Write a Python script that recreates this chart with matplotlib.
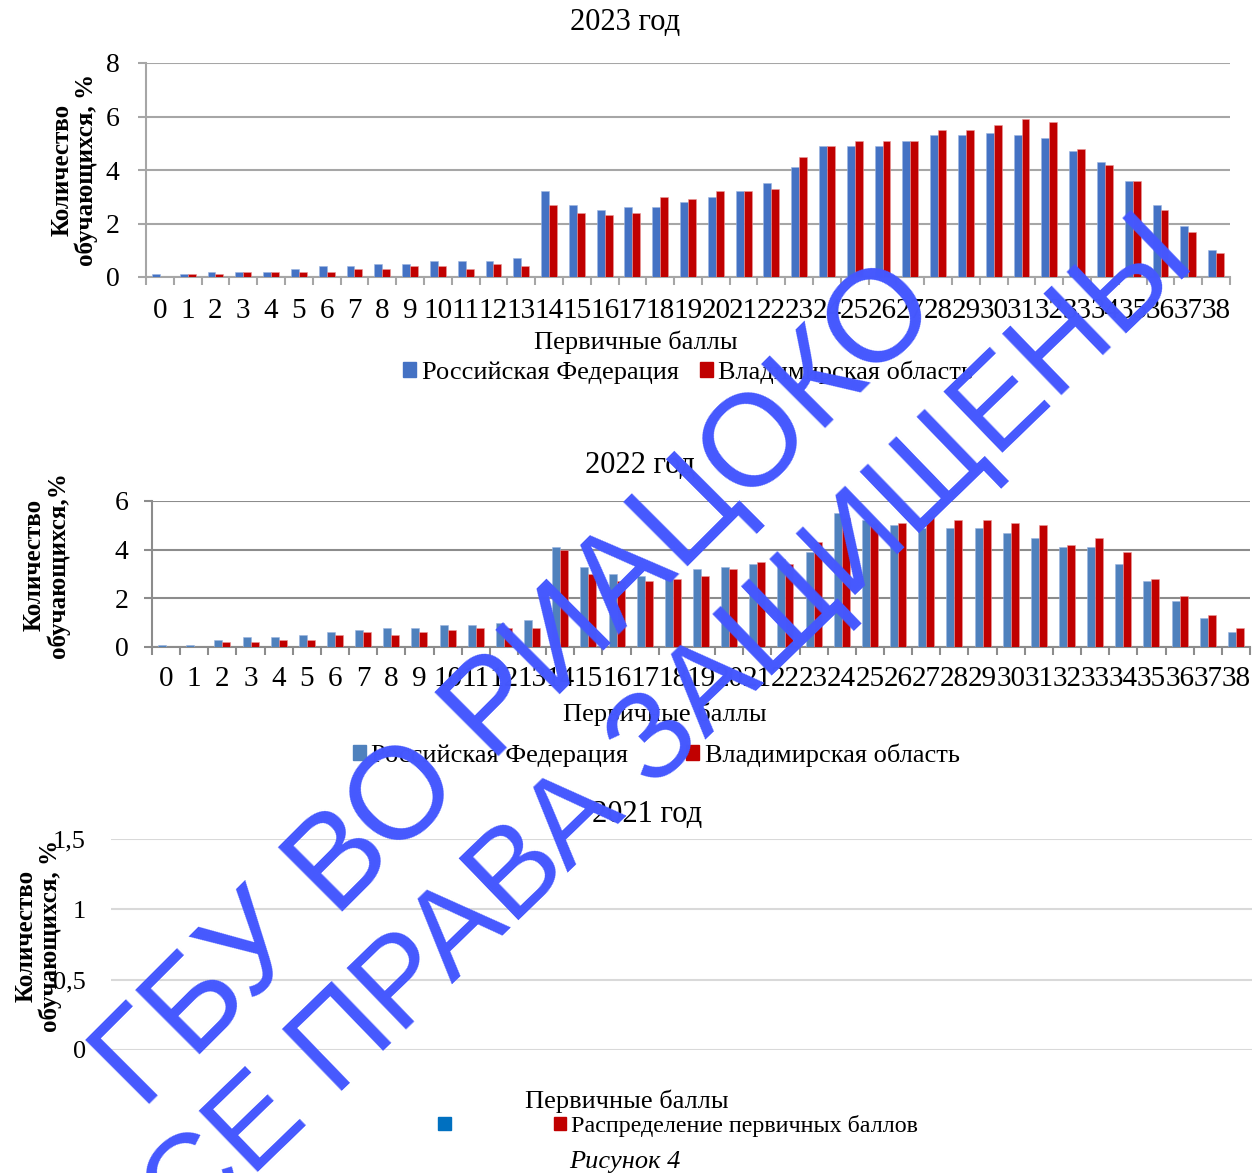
import numpy as np
import matplotlib
matplotlib.use('Agg')
import matplotlib.pyplot as plt
from matplotlib.patches import Patch
from matplotlib.ticker import FuncFormatter

# данные: первичные баллы и доля обучающихся, %
scores = list(range(39))

rf_2023 = [0.1, 0.1, 0.2, 0.2, 0.2, 0.3, 0.4, 0.4, 0.5, 0.5, 0.6, 0.6, 0.6, 0.7,
           3.2, 2.7, 2.5, 2.6, 2.6, 2.8, 3.0, 3.2, 3.5, 4.1,
           4.9, 4.9, 4.9, 5.1, 5.3, 5.3, 5.4, 5.3, 5.2, 4.7,
           4.3, 3.6, 2.7, 1.9, 1.0]
vo_2023 = [0.0, 0.1, 0.1, 0.2, 0.2, 0.2, 0.2, 0.3, 0.3, 0.4, 0.4, 0.3, 0.5, 0.4,
           2.7, 2.4, 2.3, 2.4, 3.0, 2.9, 3.2, 3.2, 3.3, 4.5,
           4.9, 5.1, 5.1, 5.1, 5.5, 5.5, 5.7, 5.9, 5.8, 4.8,
           4.2, 3.6, 2.5, 1.7, 0.9]

rf_2022 = [0.1, 0.1, 0.3, 0.4, 0.4, 0.5, 0.6, 0.7, 0.8, 0.8, 0.9, 0.9, 1.0, 1.1,
           4.1, 3.3, 3.0, 2.9, 3.0, 3.2, 3.3, 3.4, 3.6, 3.9,
           5.5, 5.2, 5.0, 4.9, 4.9, 4.9, 4.7, 4.5, 4.1, 4.1,
           3.4, 2.7, 1.9, 1.2, 0.6]
vo_2022 = [0.0, 0.0, 0.2, 0.2, 0.3, 0.3, 0.5, 0.6, 0.5, 0.6, 0.7, 0.8, 0.8, 0.8,
           4.0, 3.0, 2.7, 2.7, 2.8, 2.9, 3.2, 3.5, 3.4, 4.3,
           5.3, 5.1, 5.1, 5.4, 5.2, 5.2, 5.1, 5.0, 4.2, 4.5,
           3.9, 2.8, 2.1, 1.3, 0.8]

# 2021 год: данных на диаграмме нет
scores_2021 = []
dist_2021 = []

series_names = ['Российская Федерация', 'Владимирская область']
label_2021 = 'Распределение первичных баллов'

W, H = 1252, 1173
plt.rcParams['font.family'] = ['Liberation Serif', 'DejaVu Serif']


def fx(x):
    return x / W


def fy(y):
    return 1 - y / H


def box(left, top, right, bottom):
    return [fx(left), fy(bottom), (right - left) / W, (bottom - top) / H]


def bar_chart(ax, rf, vo, c_rf, ymax, ystep, grid_c, tick_pad, ytick_pad):
    x = np.arange(len(scores))
    w = 0.285
    ax.bar(x - w / 2, rf, w, color=c_rf, edgecolor='#9DB5E0', linewidth=0.4, zorder=3)
    ax.bar(x + w / 2, vo, w, color='#C00000', edgecolor='#E89A9A', linewidth=0.4, zorder=3)
    ax.set_xlim(-0.5, len(scores) - 0.5)
    ax.set_ylim(0, ymax)
    ax.set_yticks(np.arange(0, ymax + 0.01, ystep))
    ax.yaxis.grid(True, color=grid_c, linewidth=1.5, zorder=0)
    ax.set_xticks(np.arange(len(scores) + 1) - 0.5)
    ax.set_xticklabels([])
    ax.set_xticks(x, minor=True)
    ax.set_xticklabels([str(s) for s in scores], minor=True, fontsize=21)
    ax.tick_params(axis='x', which='major', length=6, color=grid_c, width=1.5, direction='out')
    ax.tick_params(axis='x', which='minor', length=0, pad=tick_pad)
    ax.tick_params(axis='y', length=6, color=grid_c, width=1.5, labelsize=20, pad=ytick_pad)
    for s in ['top', 'right']:
        ax.spines[s].set_visible(False)
    for s in ['left', 'bottom']:
        ax.spines[s].set_color(grid_c)
        ax.spines[s].set_linewidth(1.5)


fig = plt.figure(figsize=(W / 100, H / 100), dpi=100)

# 2023
ax1 = fig.add_axes(box(146, 63, 1230, 277))
bar_chart(ax1, rf_2023, vo_2023, '#4472C4', 8, 2, '#A6A6A6', 15, 13)
fig.text(fx(625), fy(22), '2023 год', ha='center', va='center', fontsize=22)
fig.text(fx(74), fy(170), 'Количество\nобучающихся, %', rotation=90, ha='center', va='center',
         multialignment='center', fontsize=18, fontweight='bold', linespacing=1.05)
fig.text(fx(636), fy(342), 'Первичные баллы', ha='center', va='center', fontsize=19)
fig.legend(handles=[Patch(color='#4472C4'), Patch(color='#C00000')], labels=series_names,
           loc='center', bbox_to_anchor=(fx(688), fy(372)), ncol=2, frameon=False, fontsize=19,
           handlelength=0.5, handleheight=0.5, handletextpad=0.2, columnspacing=0.8, borderpad=0)

# 2022
ax2 = fig.add_axes(box(152, 501, 1250, 647))
bar_chart(ax2, rf_2022, vo_2022, '#4F81BD', 6, 2, '#8C8C8C', 14, 11)
fig.text(fx(640), fy(465), '2022 год', ha='center', va='center', fontsize=22)
fig.text(fx(46), fy(565), 'Количество\nобучающихся,%', rotation=90, ha='center', va='center',
         multialignment='center', fontsize=18, fontweight='bold', linespacing=1.05)
fig.text(fx(665), fy(714), 'Первичные баллы', ha='center', va='center', fontsize=19)
fig.legend(handles=[Patch(color='#4F81BD'), Patch(color='#C00000')], labels=series_names,
           loc='center', bbox_to_anchor=(fx(656), fy(755)), ncol=2, frameon=False, fontsize=19,
           handlelength=0.5, handleheight=0.5, handletextpad=0.2, columnspacing=2.2, borderpad=0)

# 2021
ax3 = fig.add_axes(box(111, 839, 1252, 1050))
ax3.bar(scores_2021, dist_2021, color='#C00000')
ax3.set_xlim(-0.5, 38.5)
ax3.set_ylim(0, 1.5)
ax3.set_yticks([0, 0.5, 1, 1.5])
ax3.yaxis.set_major_formatter(FuncFormatter(lambda v, p: f'{v:g}'.replace('.', ',')))
ax3.yaxis.grid(True, color='#D9D9D9', linewidth=1.5)
ax3.set_xticks([])
ax3.tick_params(axis='y', length=0, labelsize=19, pad=18)
for s in ax3.spines.values():
    s.set_visible(False)
fig.text(fx(647), fy(815), '2021 год', ha='center', va='center', fontsize=22)
fig.text(fx(38), fy(936), 'Количество\nобучающихся, %', rotation=90, ha='center', va='center',
         multialignment='center', fontsize=18, fontweight='bold', linespacing=1.05)
fig.text(fx(627), fy(1101), 'Первичные баллы', ha='center', va='center', fontsize=19)
fig.legend(handles=[Patch(color='#0070C0'), Patch(color='#C00000')], labels=['', label_2021],
           loc='center', bbox_to_anchor=(fx(678), fy(1126)), ncol=2, frameon=False, fontsize=17.3,
           handlelength=0.5, handleheight=0.5, handletextpad=0.2, columnspacing=4.1, borderpad=0)
fig.text(fx(625), fy(1162), 'Рисунок 4', ha='center', va='center', fontsize=19, style='italic')

# водяной знак
wm = '#4558FE'
fig.text(fx(943), fy(311), 'ГБУ ВО РИАЦОКО', rotation=45, rotation_mode='anchor',
         ha='right', va='baseline', fontsize=94, color=wm, family='Liberation Sans', zorder=10)
fig.text(fx(1198), fy(264), 'ВСЕ ПРАВА ЗАЩИЩЕНЫ', rotation=44, rotation_mode='anchor',
         ha='right', va='baseline', fontsize=89, color=wm, family='Liberation Sans', zorder=10)

fig.savefig('out.png', dpi=100)
